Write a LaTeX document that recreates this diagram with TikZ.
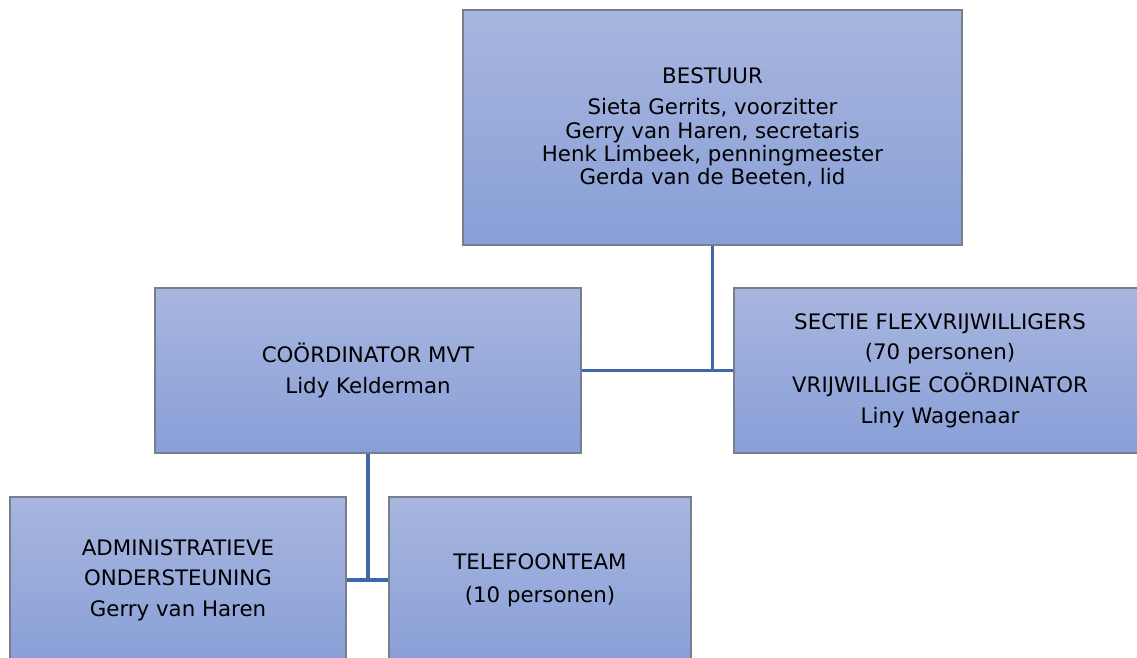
\documentclass[tikz,border=0pt]{standalone}
\usepackage{fontspec}
\setmainfont{DejaVu Sans}
\newdimen\px \px=0.75pt
\definecolor{boxtop}{RGB}{168,182,223}
\definecolor{boxbot}{RGB}{136,159,215}
\definecolor{boxrand}{RGB}{120,126,140}
\definecolor{lijn}{RGB}{64,102,172}
\tikzset{
    functie/.style={draw=boxrand, line width=1.2pt, top color=boxtop, bottom color=boxbot,
        align=center, inner sep=0pt, font=\fontsize{16pt}{17.5pt}\selectfont},
    verbinding/.style={draw=lijn, line width=2.4pt}
}
\begin{document}
\begin{tikzpicture}[x=0.75pt,y=-0.75pt]
    \useasboundingbox (0,0) rectangle (1137,657);
    \clip (0,0) rectangle (1137,657);

    \node[functie, minimum width=499\px, minimum height=235\px] (bestuur) at (712.5,127.5)
        {BESTUUR\\[6pt] Sieta Gerrits, voorzitter\\ Gerry van Haren, secretaris\\
         Henk Limbeek, penningmeester\\ Gerda van de Beeten, lid};
    \node[functie, minimum width=426\px, minimum height=165\px] (coord) at (368,370.5)
        {COÖRDINATOR MVT\\[5.5pt] Lidy Kelderman};
    \node[functie, minimum width=412\px, minimum height=165\px] (sectie) at (940,370.5)
        {SECTIE FLEXVRIJWILLIGERS\\[5.5pt] (70 personen)\\[5.5pt] VRIJWILLIGE COÖRDINATOR\\[5.5pt] Liny Wagenaar};
    \node[functie, minimum width=336\px, minimum height=166\px] (admin) at (178,580)
        {ADMINISTRATIEVE\\[5.5pt] ONDERSTEUNING\\[5.5pt] Gerry van Haren};
    \node[functie, minimum width=302\px, minimum height=166\px] (telefoon) at (540,580)
        {TELEFOONTEAM\\[7pt] (10 personen)};

    \draw[verbinding] (bestuur.south) -- (bestuur.south |- coord.east);
    \draw[verbinding] (coord.east) -- (sectie.west);
    \draw[verbinding] (coord.south) -- (coord.south |- admin.east);
    \draw[verbinding] (admin.east) -- (telefoon.west);
\end{tikzpicture}
\end{document}
